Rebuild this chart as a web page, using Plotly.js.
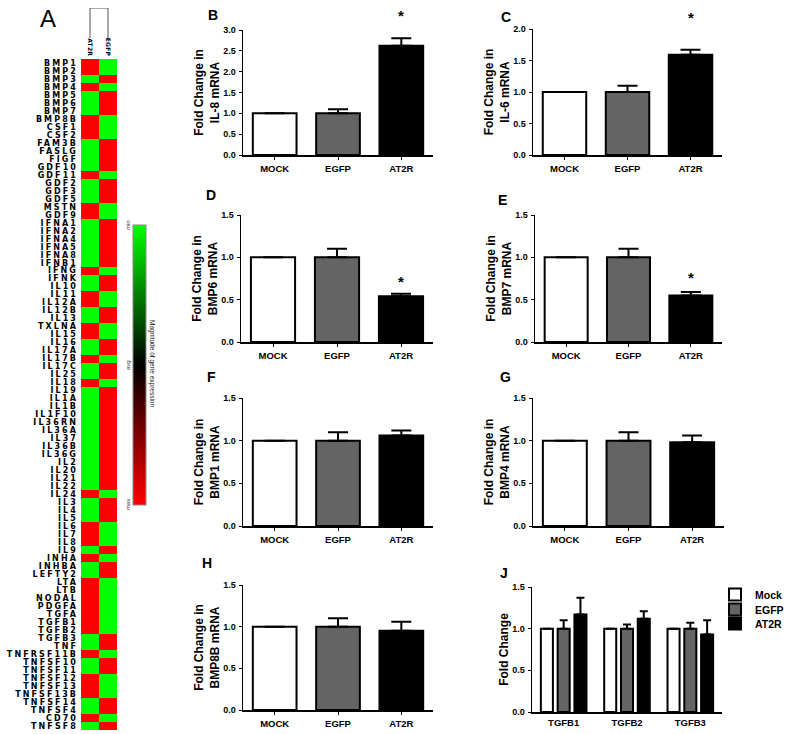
<!DOCTYPE html>
<html>
<head>
<meta charset="utf-8">
<script src="https://cdn.plot.ly/plotly-3.0.1.min.js"></script>
<style>
html,body{margin:0;padding:0;background:#fff;}
#chart{width:787px;height:734px;}
.ytick text{letter-spacing:2.1px;}
.xtick text{letter-spacing:0.2px;}
</style>
</head>
<body>
<div id="chart"></div>
<script>
// ---------------- DATA ----------------
const genes = ["BMP1","BMP2","BMP3","BMP4","BMP5","BMP6","BMP7","BMP8B","CSF1","CSF2",
"FAM3B","FASLG","FIGF","GDF10","GDF11","GDF2","GDF3","GDF5","MSTN","GDF9",
"IFNA1","IFNA2","IFNA4","IFNA5","IFNA8","IFNB1","IFNG","IFNK","IL10","IL11",
"IL12A","IL12B","IL13","TXLNA","IL15","IL16","IL17A","IL17B","IL17C","IL25",
"IL18","IL19","IL1A","IL1B","IL1F10","IL36RN","IL36A","IL37","IL36B","IL36G",
"IL2","IL20","IL21","IL22","IL24","IL3","IL4","IL5","IL6","IL7",
"IL8","IL9","INHA","INHBA","LEFTY2","LTA","LTB","NODAL","PDGFA","TGFA",
"TGFB1","TGFB2","TGFB3","TNF","TNFRSF11B","TNFSF10","TNFSF11","TNFSF12","TNFSF13","TNFSF13B",
"TNFSF14","TNFSF4","CD70","TNFSF8"];
const heatSamples = ["AT2R","EGFP"];
// 1 = max (red), 0 = min (green)
const at2rLevel = [1,1,0,1,0,0,0,1,1,1,
0,0,0,0,1,0,0,0,1,1,
0,0,0,0,0,0,1,0,0,1,
1,0,0,1,1,0,0,1,0,0,
1,0,0,0,0,0,0,0,0,0,
0,0,0,0,1,0,0,0,1,1,
1,0,1,0,0,1,1,1,1,1,
1,1,0,0,1,0,0,1,1,1,
0,0,1,0];
const egfpLevel = [0,0,1,0,1,1,1,0,0,0,
1,1,1,1,0,1,1,1,0,0,
1,1,1,1,1,1,0,1,1,0,
0,1,1,0,0,1,1,0,1,1,
0,1,1,1,1,1,1,1,1,1,
1,1,1,1,0,1,1,1,0,0,
0,1,0,1,1,0,0,0,0,0,
0,0,1,1,0,1,1,0,0,0,
1,1,0,1];
const dendroX = ["AT2R","AT2R","EGFP","EGFP"];
const dendroY = [0,1,1,0];
const scaleTicks = ["min","avg","max"];

const groups = ["MOCK","EGFP","AT2R"];
const il8 = [1.0,1.0,2.62],  il8Err = [0,0.10,0.18];
const il6 = [1.0,1.0,1.59],  il6Err = [0,0.10,0.08];
const bmp6 = [1.0,1.0,0.54], bmp6Err = [0,0.10,0.03];
const bmp7 = [1.0,1.0,0.55], bmp7Err = [0,0.10,0.04];
const bmp1 = [1.0,1.0,1.06], bmp1Err = [0,0.10,0.06];
const bmp4 = [1.0,1.0,0.98], bmp4Err = [0,0.10,0.08];
const bmp8b = [1.0,1.0,0.95], bmp8bErr = [0,0.10,0.11];
const tgfGenes = ["TGFB1","TGFB2","TGFB3"];
const tgfMock = [1.0,1.0,1.0], tgfMockErr = [0,0,0];
const tgfEgfp = [1.0,1.0,1.0], tgfEgfpErr = [0.10,0.05,0.07];
const tgfAt2r = [1.17,1.12,0.93], tgfAt2rErr = [0.20,0.09,0.17];
const significant = [false,false,true]; // per group for B-E

// ---------------- HELPERS ----------------
const W = 787, H = 734;
const px = x => x / W;
const py = y => 1 - y / H;
const FONT = "Liberation Sans, Arial, sans-serif";
const barColors = ["#ffffff","#646464","#000000"];

const data = [];
const layout = {
  width: W, height: H,
  margin: {l:0,r:0,t:0,b:0,autoexpand:false},
  paper_bgcolor: "#fff", plot_bgcolor: "#fff",
  showlegend: true,
  barmode: "overlay",
  font: {family: FONT, color: "#000"},
  annotations: []
};

// ---------------- HEATMAP ----------------
const zHeat = genes.map((g,i) => [-at2rLevel[i], -egfpLevel[i]]);
data.push({
  type: "heatmap", x: heatSamples, y: genes, z: zHeat,
  xaxis: "x", yaxis: "y", zmin: -1, zmax: 0,
  colorscale: [[0,"#ff0000"],[0.5,"#000000"],[1,"#00ff00"]],
  hoverinfo: "skip", showlegend: false,
  colorbar: {x: px(133), xanchor: "left", xpad: 0, ypad: 0,
             y: py(225), yanchor: "top", len: 280, lenmode: "pixels",
             thickness: 13, thicknessmode: "pixels",
             outlinewidth: 1, outlinecolor: "#888",
             showticklabels: false, ticks: ""}
});
layout.xaxis = {domain: [px(81), px(117)], anchor: "y", side: "top",
  tickangle: 90, ticks: "", showline: false, showgrid: false, zeroline: false,
  tickfont: {family: "DejaVu Sans, sans-serif", size: 6, weight: 700},
  ticklabelstandoff: 1, fixedrange: true};
layout.yaxis = {domain: [py(730), py(59)], anchor: "x", autorange: "reversed",
  ticks: "", showline: false, showgrid: false, zeroline: false,
  tickfont: {family: "DejaVu Sans, sans-serif", size: 8, weight: 700},
  ticklabelstandoff: 2, dtick: 1, fixedrange: true};

// dendrogram
data.push({type: "scatter", mode: "lines", x: dendroX, y: dendroY,
  xaxis: "x2", yaxis: "y2", line: {color: "#555", width: 1}, hoverinfo: "skip", showlegend: false});
layout.xaxis2 = {domain: [px(81), px(117)], anchor: "y2", type: "category",
  categoryarray: heatSamples, range: [-0.5,1.5], visible: false};
layout.yaxis2 = {domain: [py(38), py(8)], anchor: "x2", range: [0,1], visible: false};

// colour scale labels
[225,365,505].forEach((yy,i) => layout.annotations.push({
  xref: "paper", yref: "paper", x: px(128), y: py(yy), text: scaleTicks[i],
  showarrow: false, textangle: -90, font: {family: FONT, size: 6, color: "#333"},
  xanchor: "center", yanchor: "middle"}));
layout.annotations.push({xref: "paper", yref: "paper", x: px(152), y: py(363),
  text: "Magnitude of gene expression", showarrow: false, textangle: 90,
  font: {family: FONT, size: 6.5, color: "#222"}, xanchor: "center", yanchor: "middle"});
layout.annotations.push({xref: "paper", yref: "paper", x: px(48), y: py(18),
  text: "A", showarrow: false, font: {family: FONT, size: 24, color: "#000"},
  xanchor: "center", yanchor: "middle"});

// ---------------- BAR PANELS ----------------
const panels = [
  {id: 3, letter: "B", vals: il8, err: il8Err, gene: "IL-8", x: [243,433], y: [30,155], ymax: 3.0, lx: 213, ly: 15, starShift: 12},
  {id: 4, letter: "C", vals: il6, err: il6Err, gene: "IL-6", x: [533,722], y: [29,155], ymax: 2.0, lx: 506, ly: 17, starShift: 22},
  {id: 5, letter: "D", vals: bmp6, err: bmp6Err, gene: "BMP6", x: [241,433], y: [215,342], ymax: 1.5, lx: 211, ly: 195, starShift: 2},
  {id: 6, letter: "E", vals: bmp7, err: bmp7Err, gene: "BMP7", x: [535,722], y: [215,342], ymax: 1.5, lx: 502, ly: 200, starShift: 4},
  {id: 7, letter: "F", vals: bmp1, err: bmp1Err, gene: "BMP1", x: [243,433], y: [398,526], ymax: 1.5, lx: 212, ly: 377, starShift: 0},
  {id: 8, letter: "G", vals: bmp4, err: bmp4Err, gene: "BMP4", x: [533,724], y: [398,526], ymax: 1.5, lx: 505, ly: 377, starShift: 0},
  {id: 9, letter: "H", vals: bmp8b, err: bmp8bErr, gene: "BMP8B", x: [243,433], y: [585,710], ymax: 1.5, lx: 207, ly: 563, starShift: 0}
];
const withStar = {B: true, C: true, D: true, E: true};

function axisPair(id, xr, yr, ymax, ytitle) {
  layout["xaxis"+id] = {domain: [px(xr[0]), px(xr[1])], anchor: "y"+id,
    type: "category", range: [-0.5, 2.5], showline: true, linecolor: "#000", linewidth: 1.5,
    ticks: "outside", ticklen: 3, tickwidth: 1, tickcolor: "#000",
    showgrid: false, zeroline: false, fixedrange: true,
    tickfont: {family: FONT, size: 9.5, weight: 700}, ticklabelstandoff: 1};
  layout["yaxis"+id] = {domain: [py(yr[1]), py(yr[0])], anchor: "x"+id,
    range: [0, ymax], dtick: 0.5, tickformat: ".1f", showline: true, linecolor: "#000", linewidth: 1.5,
    ticks: "outside", ticklen: 3, tickwidth: 1, tickcolor: "#000",
    showgrid: false, zeroline: false, fixedrange: true,
    tickfont: {family: FONT, size: 9, weight: 700}, ticklabelstandoff: 1,
    title: {text: ytitle, font: {family: FONT, size: 12, weight: 700}, standoff: 1}};
}

panels.forEach(p => {
  axisPair(p.id, p.x, p.y, p.ymax, "Fold Change in<br>" + p.gene + " mRNA");
  data.push({type: "bar", x: groups, y: p.vals, width: 0.69,
    xaxis: "x"+p.id, yaxis: "y"+p.id, showlegend: false, hoverinfo: "skip",
    marker: {color: barColors, line: {color: "#000", width: 2}},
    error_y: {type: "data", array: p.err, arrayminus: p.err.map(() => 0), symmetric: false,
              color: "#000", thickness: 2, width: 10}});
  layout.annotations.push({xref: "paper", yref: "paper", x: px(p.lx), y: py(p.ly),
    text: "<b>" + p.letter + "</b>", showarrow: false, font: {family: FONT, size: 14},
    xanchor: "center", yanchor: "middle"});
  if (withStar[p.letter]) {
    groups.forEach((g,i) => {
      if (significant[i]) layout.annotations.push({xref: "x"+p.id, yref: "y"+p.id,
        x: g, y: p.vals[i] + p.err[i], text: "*", showarrow: false,
        yanchor: "bottom", yshift: p.starShift, font: {family: FONT, size: 15, weight: 700}});
    });
  }
});

// ---------------- PANEL J ----------------
axisPair(10, [532,722], [587,712], 1.5, "Fold Change");
layout.xaxis10.ticks = "";
const jSeries = [
  {name: "Mock", vals: tgfMock, err: tgfMockErr, color: barColors[0], offset: -0.36, legend: "legend", ly: 580},
  {name: "EGFP", vals: tgfEgfp, err: tgfEgfpErr, color: barColors[1], offset: -0.095, legend: "legend2", ly: 595},
  {name: "AT2R", vals: tgfAt2r, err: tgfAt2rErr, color: barColors[2], offset: 0.17, legend: "legend3", ly: 609}
];
jSeries.forEach(s => {
  data.push({type: "bar", name: s.name, x: tgfGenes, y: s.vals, legend: s.legend,
    width: 0.19, offset: s.offset, xaxis: "x10", yaxis: "y10", hoverinfo: "skip",
    marker: {color: s.color, line: {color: "#000", width: 2}},
    error_y: {type: "data", array: s.err, arrayminus: s.err.map(() => 0), symmetric: false,
              color: "#000", thickness: 2, width: 4}});
  layout[s.legend] = {x: px(715), y: py(s.ly), xanchor: "left", yanchor: "top",
    font: {family: FONT, size: 10.5, weight: 700}, bgcolor: "rgba(0,0,0,0)",
    borderwidth: 0, itemwidth: 30};
});
layout.annotations.push({xref: "paper", yref: "paper", x: px(504), y: py(573),
  text: "<b>J</b>", showarrow: false, font: {family: FONT, size: 14},
  xanchor: "center", yanchor: "middle"});

Plotly.newPlot("chart", data, layout, {staticPlot: true, displayModeBar: false});
</script>
</body>
</html>
